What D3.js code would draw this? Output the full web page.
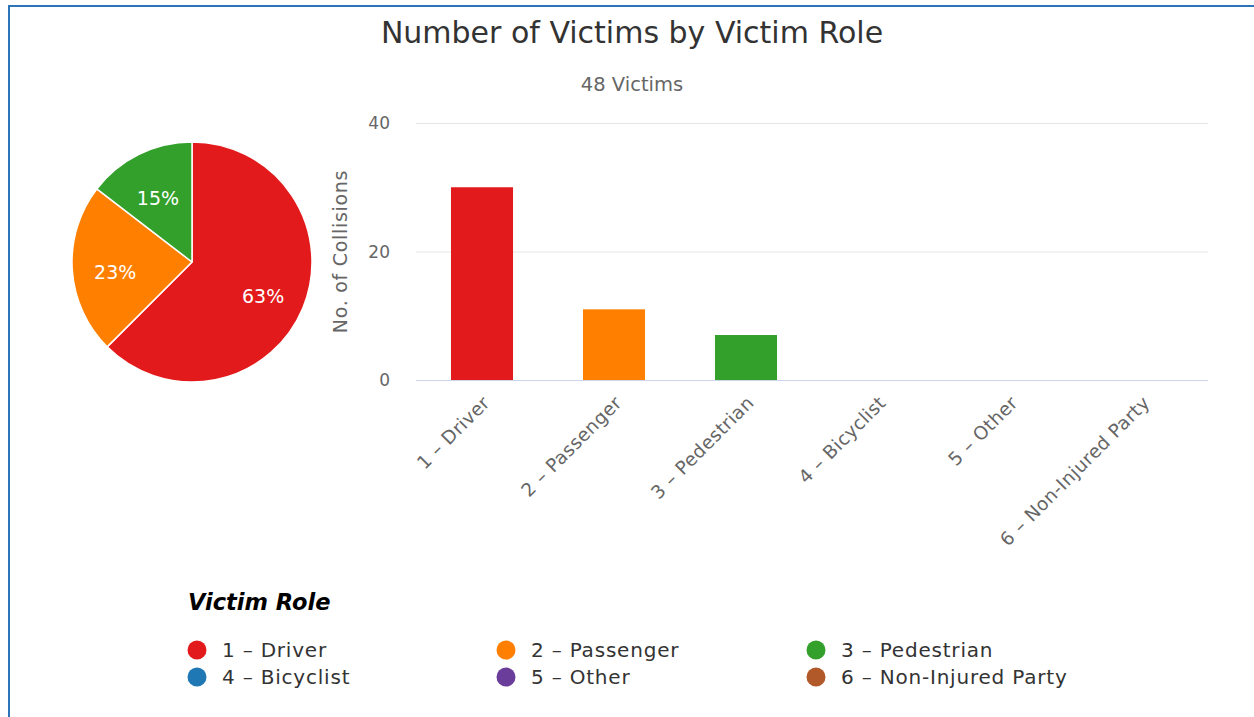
<!DOCTYPE html>
<html>
<head>
<meta charset="utf-8">
<script src="https://cdn.jsdelivr.net/npm/d3@7"></script>
<style>
  html, body { margin: 0; padding: 0; background: #fff; }
  svg { display: block; font-family: "DejaVu Sans", Verdana, sans-serif; }
</style>
</head>
<body>
<svg id="chart" width="1254" height="717"></svg>
<script>
// ========= Data =========
const categories = ["1 – Driver", "2 – Passenger", "3 – Pedestrian", "4 – Bicyclist", "5 – Other", "6 – Non-Injured Party"];
const victims = [30, 11, 7, 0, 0, 0];
const colors = ["#e31a1c", "#ff7f00", "#33a02c", "#1f78b4", "#6a3d9a", "#b15928"];
const yTicks = [0, 20, 40];

const title = "Number of Victims by Victim Role";
const total = d3.sum(victims);
const subtitle = `${total} Victims`;
const yTitle = "No. of Collisions";
const legendTitle = "Victim Role";

const svg = d3.select("#chart");
const W = 1254, H = 717;

// ========= Frame =========
svg.append("rect")
  .attr("x", 9).attr("y", 6)
  .attr("width", W + 20).attr("height", H + 20)
  .attr("fill", "none")
  .attr("stroke", "#2e74b8")
  .attr("stroke-width", 2);

// ========= Titles =========
svg.append("text")
  .attr("x", 632).attr("y", 43)
  .attr("text-anchor", "middle")
  .attr("fill", "#333")
  .attr("font-size", 30)
  .text(title);

svg.append("text")
  .attr("x", 632).attr("y", 91)
  .attr("text-anchor", "middle")
  .attr("fill", "#666")
  .attr("font-size", 19.5)
  .text(subtitle);

// ========= Pie =========
const pieCx = 192, pieCy = 262, pieR = 120;
const pie = d3.pie().sort(null).value(d => d.value);
const arcs = pie(categories.map((c, i) => ({ name: c, value: victims[i], color: colors[i] })));
const arc = d3.arc().innerRadius(0).outerRadius(pieR);
const labelArc = d3.arc().innerRadius(77).outerRadius(77);

const gPie = svg.append("g").attr("transform", `translate(${pieCx},${pieCy})`);

gPie.selectAll("path")
  .data(arcs.filter(d => d.data.value > 0))
  .join("path")
  .attr("d", arc)
  .attr("fill", d => d.data.color)
  .attr("stroke", "#fff")
  .attr("stroke-width", 1.5)
  .attr("stroke-linejoin", "round");

gPie.selectAll("text")
  .data(arcs.filter(d => d.data.value > 0))
  .join("text")
  .attr("transform", d => `translate(${labelArc.centroid(d)})`)
  .attr("text-anchor", "middle")
  .attr("dy", "0.62em")
  .attr("fill", "#fff")
  .attr("font-size", 19)
  .text(d => Math.round(d.data.value / total * 100) + "%");

// ========= Bars =========
const plot = { left: 416, right: 1208, top: 123, bottom: 380 };

const x = d3.scaleBand()
  .domain(categories)
  .range([plot.left, plot.right])
  .paddingInner(0.53)
  .paddingOuter(0.265);

const y = d3.scaleLinear()
  .domain([0, 40])
  .range([plot.bottom, plot.top]);

// grid lines
svg.append("g")
  .selectAll("line")
  .data(yTicks)
  .join("line")
  .attr("x1", plot.left).attr("x2", plot.right)
  .attr("y1", d => y(d) + 0.5).attr("y2", d => y(d) + 0.5)
  .attr("stroke", d => d === 0 ? "#ccd6eb" : "#e6e6e6")
  .attr("stroke-width", 1);

// y tick labels
svg.append("g")
  .selectAll("text")
  .data(yTicks)
  .join("text")
  .attr("x", 390)
  .attr("y", d => y(d))
  .attr("dy", "0.36em")
  .attr("text-anchor", "end")
  .attr("fill", "#666")
  .attr("font-size", 17)
  .text(d => d);

// y axis title
svg.append("text")
  .attr("transform", `translate(347,${(plot.top + plot.bottom) / 2}) rotate(-90)`)
  .attr("text-anchor", "middle")
  .attr("fill", "#666")
  .attr("font-size", 19)
  .attr("letter-spacing", 0.7)
  .text(yTitle);

svg.append("g")
  .selectAll("rect")
  .data(categories.map((c, i) => ({ name: c, value: victims[i], color: colors[i] })))
  .join("rect")
  .attr("x", d => x(d.name))
  .attr("y", d => y(d.value))
  .attr("width", x.bandwidth())
  .attr("height", d => y(0) - y(d.value))
  .attr("fill", d => d.color);

// x labels, rotated
svg.append("g")
  .selectAll("text")
  .data(categories)
  .join("text")
  .attr("transform", d => `translate(${x(d) + x.bandwidth() / 2 + 9},${plot.bottom + 24}) rotate(-45)`)
  .attr("text-anchor", "end")
  .attr("fill", "#666")
  .attr("font-size", 18.5)
  .attr("letter-spacing", 0.4)
  .text(d => d);

// ========= Legend =========
svg.append("text")
  .attr("x", 188).attr("y", 610)
  .attr("fill", "#000")
  .attr("font-size", 22.5)
  .attr("font-weight", "bold")
  .attr("font-style", "italic")
  .text(legendTitle);

const legendCols = [197, 506, 816];
const legendRows = [650, 677];

const item = svg.append("g")
  .selectAll("g")
  .data(categories.map((c, i) => ({ name: c, color: colors[i], i })))
  .join("g")
  .attr("transform", d => `translate(${legendCols[d.i % 3]},${legendRows[Math.floor(d.i / 3)]})`);

item.append("circle")
  .attr("r", 9.5)
  .attr("fill", d => d.color);

item.append("text")
  .attr("x", 25)
  .attr("dy", "0.36em")
  .attr("fill", "#333")
  .attr("font-size", 20)
  .attr("letter-spacing", 0.8)
  .text(d => d.name);
</script>
</body>
</html>
